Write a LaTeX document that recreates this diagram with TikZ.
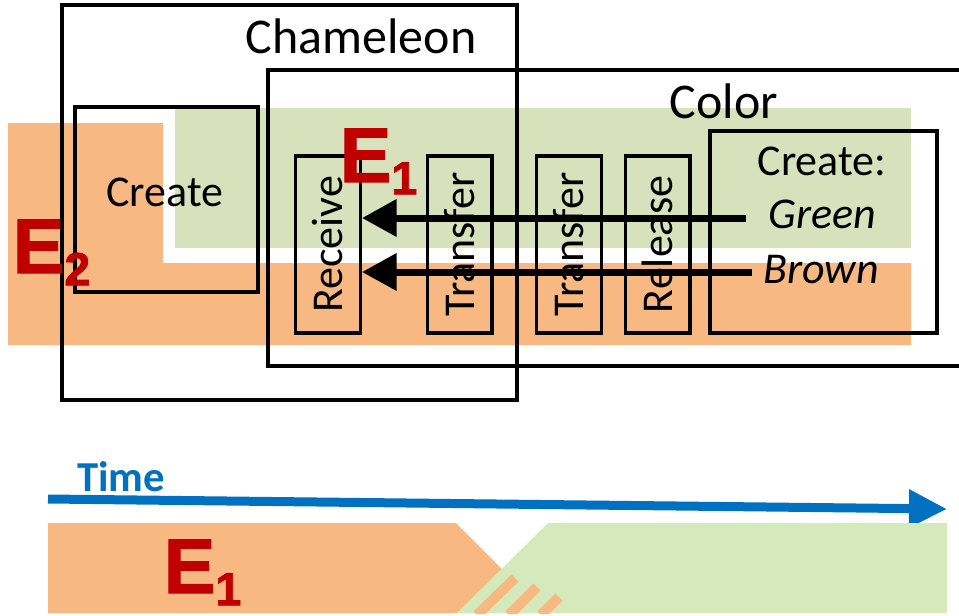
\documentclass[tikz,border=0pt]{standalone}
\usepackage{fontspec}
\setmainfont{Carlito}
\newfontfamily\efont[BoldFeatures={FakeBold=1.5}]{Liberation Sans}
\usetikzlibrary{arrows.meta}

\definecolor{brownfill}{HTML}{F8B882}
\definecolor{greenfill}{HTML}{D7E2BD}
\definecolor{greenlight}{HTML}{D4EABA}
\definecolor{ered}{HTML}{C00000}
\definecolor{timeblue}{HTML}{0070C0}

% E with a lowered index
\newcommand{\Esub}[1]{{\efont\bfseries\fontsize{58}{58}\selectfont E\fontsize{35}{35}\selectfont\raisebox{-9.25pt}{#1}}}

\begin{document}
\begin{tikzpicture}[x=0.75pt,y=-0.75pt,
    frame/.style={draw,line width=2.5pt},
    lbl/.style={inner sep=0pt,font=\fontsize{33}{33}\selectfont},
    title/.style={inner sep=0pt,font=\fontsize{37.5}{37.5}\selectfont},
    stepbox/.style={draw,line width=2.5pt,rotate=90,inner sep=0pt,
      minimum width=132.75pt,minimum height=48.5pt,font=\fontsize{33}{33}\selectfont},
    flow/.style={line width=5.25pt,-{Triangle[length=26pt,width=27pt]}},
    elabel/.style={inner sep=0pt,anchor=base west,text=ered}]
  \useasboundingbox (0,0) rectangle (959,615);

  % colour bands behind the frames
  \fill[brownfill] (8,123) -- (163,123) -- (163,263) -- (911,263)
    -- (911,345) -- (8,345) -- cycle;
  \fill[greenfill] (175,108) rectangle (911,248);

  % outer frames
  \draw[frame] (62,5) rectangle (517,400);
  \draw[frame] (975,70) -- (268,70) -- (268,366) -- (975,366);
  \node[title,anchor=base] (chamtitle) at (361,53) {Chameleon};
  \node[title,anchor=base] (colortitle) at (724,118) {Color};

  % create boxes
  \draw[frame] (75,107) rectangle (258,292);
  \node[lbl,anchor=base] (create) at (165,206) {Create};
  \draw[frame] (710,131) rectangle (937,333);
  \node[lbl,anchor=base] (createc) at (822,175) {Create:};
  \node[lbl,anchor=base] (green) at (822,228) {\itshape Green};
  \node[lbl,anchor=base] (brown) at (821,283) {\itshape Brown};

  % steps
  \node[stepbox] (receive) at (328,244.5) {Receive};
  \node[stepbox] (transfera) at (459.5,244.5) {Transfer};
  \node[stepbox] (transferb) at (569,244.5) {Transfer};
  \node[stepbox] (release) at (657.5,244.5) {Release};

  \coordinate (gsrc) at (746,218);
  \coordinate (bsrc) at (752,272);
  \draw[flow] (gsrc) -- (receive.south |- gsrc);
  \draw[flow] (bsrc) -- (receive.south |- bsrc);

  \node[elabel] (etwo) at (12.5,273) {\Esub{2}};
  \node[elabel] (eone) at (339.5,182) {\Esub{1}};

  % time line
  \node[anchor=base,text=timeblue,inner sep=0pt,
    font=\bfseries\fontsize{32}{32}\selectfont] (time) at (121,491) {Time};
  \coordinate (tstart) at (48,499);
  \coordinate (tend) at (947,509);
  \draw[timeblue,line width=6.75pt,-{Triangle[length=28.5pt,width=27pt]}] (tstart) -- (tend);

  \fill[brownfill] (48,523) -- (456,523) -- (546,613) -- (48,613) -- cycle;
  \fill[greenlight] (548,523) -- (947,523) -- (947,613) -- (457,613) -- cycle;
  \begin{scope}[brownfill,line width=7.5pt]
    \clip (440,523) rectangle (600,613);
    \draw (477,615) -- (515,578);
    \draw (509,615) -- (537,587);
    \draw (541,615) -- (559,597);
  \end{scope}
  \node[elabel] (eonebot) at (163.5,593) {\Esub{1}};
\end{tikzpicture}
\end{document}
